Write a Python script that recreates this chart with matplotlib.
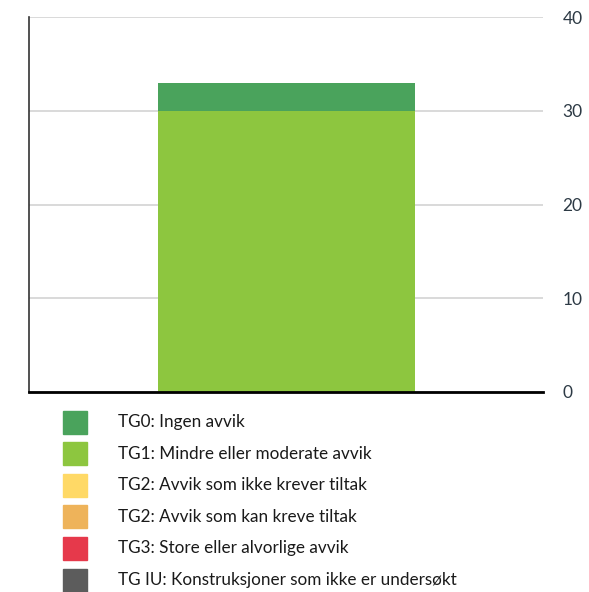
import matplotlib.pyplot as plt
from matplotlib.patches import Rectangle

# --- data ---
categories = ["TG0: Ingen avvik",
              "TG1: Mindre eller moderate avvik",
              "TG2: Avvik som ikke krever tiltak",
              "TG2: Avvik som kan kreve tiltak",
              "TG3: Store eller alvorlige avvik",
              "TG IU: Konstruksjoner som ikke er undersøkt"]
values = [3, 30, 0, 0, 0, 0]
colors = ["#4aa35c", "#8dc63f", "#ffd966", "#eeb35a", "#e6394b", "#5c5c5c"]
yticks = [0, 10, 20, 30, 40]

plt.rcParams['font.family'] = ['Lato', 'DejaVu Sans']

W, H = 589, 592
fig = plt.figure(figsize=(W / 100, H / 100), dpi=100)
ax = fig.add_axes([29 / W, 1 - 392 / H, (543 - 29) / W, (392 - 17) / H])

# stack order bottom-up: TG1 then TG0
order = [1, 0, 2, 3, 4, 5]
bottom = 0
for i in order:
    ax.bar(0, values[i], width=0.5, bottom=bottom, color=colors[i], zorder=3)
    bottom += values[i]

ax.set_xlim(-0.5, 0.5)
ax.set_ylim(0, 40)
ax.set_xticks([])
ax.yaxis.tick_right()
ax.set_yticks(yticks)
ax.tick_params(axis='y', length=0, pad=14, labelsize=12.5, labelcolor="#2d3a45")
ax.grid(axis='y', color="#d3d3d3", linewidth=1.2, zorder=0)
for s in ["top", "right"]:
    ax.spines[s].set_visible(False)
ax.spines["left"].set_color("#333333")
ax.spines["left"].set_linewidth(1.2)
ax.spines["bottom"].set_color("black")
ax.spines["bottom"].set_linewidth(2)
ax.spines["bottom"].set_zorder(4)

# legend drawn in pixel positions
for k, (lab, c) in enumerate(zip(categories, colors)):
    yc = 422 + k * 31.6
    fig.add_artist(Rectangle((63 / W, 1 - (yc + 11.5) / H), 24 / W, 23 / H,
                             transform=fig.transFigure, color=c))
    fig.text(118 / W, 1 - yc / H, lab, ha='left', va='center',
             fontsize=12.3, color="#1a1a1a")

fig.savefig("out.png", dpi=100)
